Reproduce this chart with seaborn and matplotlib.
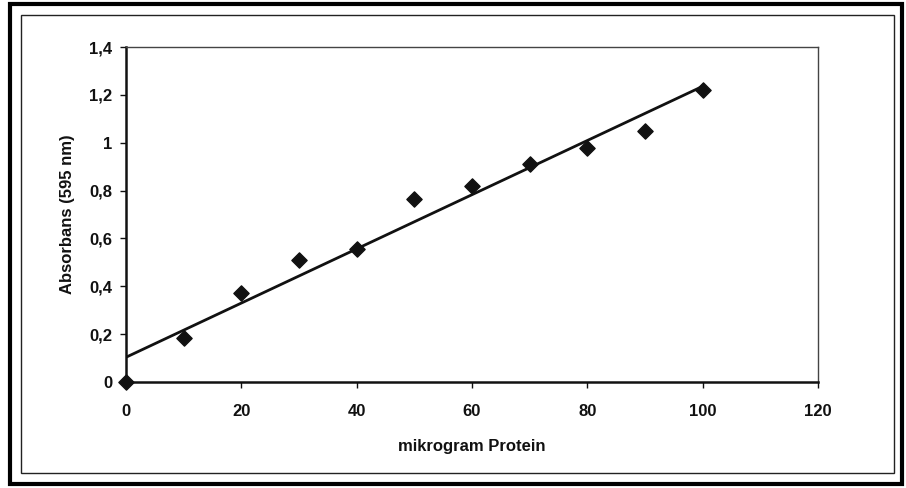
import numpy as np
import pandas as pd
import matplotlib
matplotlib.use("Agg")
import matplotlib.pyplot as plt
import seaborn as sns
from matplotlib.patches import Rectangle

protein = [0, 10, 20, 30, 40, 50, 60, 70, 80, 90, 100]
absorbans = [0.0, 0.185, 0.37, 0.51, 0.555, 0.765, 0.82, 0.91, 0.98, 1.05, 1.22]
x_ticks = [0, 20, 40, 60, 80, 100, 120]
y_ticks = [0, 0.2, 0.4, 0.6, 0.8, 1.0, 1.2, 1.4]
y_tick_labels = ["0", "0,2", "0,4", "0,6", "0,8", "1", "1,2", "1,4"]

df = pd.DataFrame({"protein": protein, "absorbans": absorbans})

sns.set_theme(style="white")
plt.rcParams["font.family"] = ["Liberation Sans", "DejaVu Sans"]

W, H = 906, 488
fig = plt.figure(figsize=(W / 100, H / 100), dpi=100)
ax = fig.add_axes([126 / W, 1 - 382 / H, (818 - 126) / W, (382 - 47) / H])

sns.regplot(data=df, x="protein", y="absorbans", ci=None, ax=ax, marker="D",
            scatter_kws=dict(s=60, color="#111111", edgecolor="#111111", alpha=1,
                             zorder=3, clip_on=False),
            line_kws=dict(color="#111111", lw=2.0))

ax.set_xlim(0, 120)
ax.set_ylim(0, 1.4)
ax.set_xticks(x_ticks)
ax.set_xticklabels([str(t) for t in x_ticks])
ax.set_yticks(y_ticks)
ax.set_yticklabels(y_tick_labels)
ax.tick_params(axis="both", which="major", direction="out", length=4, width=1.0,
               colors="#111111", labelsize=12, bottom=True, left=True)
ax.tick_params(axis="x", pad=12)
ax.tick_params(axis="y", pad=6)
for lab in ax.get_xticklabels() + ax.get_yticklabels():
    lab.set_fontweight("bold")
ax.set_xlabel("mikrogram Protein", fontsize=12, fontweight="bold", labelpad=14, color="#111111")
ax.set_ylabel("Absorbans (595 nm)", fontsize=12, fontweight="bold", labelpad=10, color="#111111")

for side in ["left", "bottom"]:
    ax.spines[side].set_color("#111111")
    ax.spines[side].set_linewidth(1.8)
for side in ["top", "right"]:
    ax.spines[side].set_color("#444444")
    ax.spines[side].set_linewidth(1.0)
ax.set_facecolor("none")

# inner chart-area border and outer page border
fig.patches.append(Rectangle((21 / W, 1 - 473 / H), (894 - 21) / W, (473 - 15) / H,
                             transform=fig.transFigure, fill=False, edgecolor="#222222", lw=1.0))
fig.patches.append(Rectangle((10 / W, 1 - 484 / H), (902 - 10) / W, (484 - 4) / H,
                             transform=fig.transFigure, fill=False, edgecolor="black", lw=3.0))

fig.savefig("out.png", dpi=100, facecolor="white")
